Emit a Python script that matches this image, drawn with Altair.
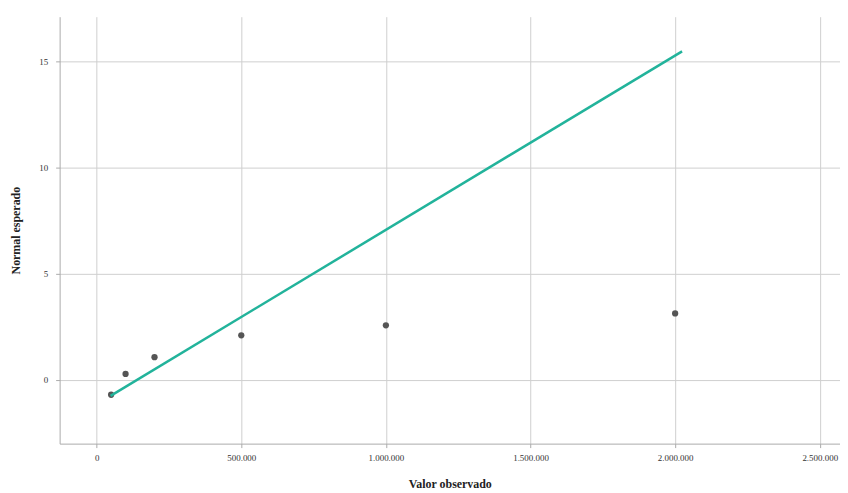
import altair as alt
import pandas as pd

obs_x = [50000, 100000, 200000, 500000, 1000000, 2000000]
exp_y = [-0.70, 0.28, 1.07, 2.10, 2.57, 3.13]
line_x = [48000, 2024000]
line_y = [-0.75, 15.47]
x_ticks = [0, 500000, 1000000, 1500000, 2000000, 2500000]
y_ticks = [0, 5, 10, 15]

pts = pd.DataFrame({"x": obs_x, "y": exp_y})
ln = pd.DataFrame({"x": line_x, "y": line_y})

xscale = alt.Scale(domain=[-128000, 2570000], nice=False, zero=False)
yscale = alt.Scale(domain=[-3.0, 17.1], nice=False, zero=False)

xaxis = alt.Axis(
    title="Valor observado", values=x_ticks,
    labelExpr="replace(replace(format(datum.value, ','), ',', '.'), ',', '.')",
    grid=True, gridColor="#cfcfcf", domainColor="#aaaaaa", tickColor="#aaaaaa",
    tickSize=4, labelFont="Liberation Serif", labelFontSize=9, labelColor="#333",
    titleFont="Liberation Serif", titleFontSize=12, titleFontWeight="bold",
    titleColor="#222", titlePadding=16, labelPadding=6,
)
yaxis = alt.Axis(
    title="Normal esperado", values=y_ticks, format="d",
    grid=True, gridColor="#cfcfcf", domainColor="#aaaaaa", tickColor="#aaaaaa",
    tickSize=4, labelFont="Liberation Serif", labelFontSize=9, labelColor="#333",
    titleFont="Liberation Serif", titleFontSize=12, titleFontWeight="bold",
    titleColor="#222", titlePadding=16, labelPadding=8,
)

line = alt.Chart(ln).mark_line(color="#22b39b", strokeWidth=2.5).encode(
    x=alt.X("x:Q", scale=xscale, axis=xaxis),
    y=alt.Y("y:Q", scale=yscale, axis=yaxis),
)
points = alt.Chart(pts).mark_circle(color="#555555", size=40, opacity=1).encode(
    x=alt.X("x:Q", scale=xscale),
    y=alt.Y("y:Q", scale=yscale),
)

chart = alt.layer(points, line).properties(
    width=786, height=430,
    autosize=alt.AutoSizeParams(type="none"),
    padding={"left": 52, "top": 7, "right": 0, "bottom": 50},
).configure_view(strokeWidth=0)

chart.save("out.html", embed_options={"renderer": "svg", "actions": False})
